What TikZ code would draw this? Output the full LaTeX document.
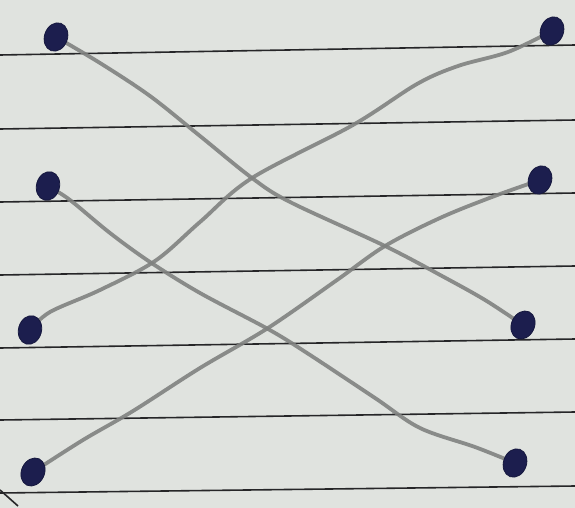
\documentclass[tikz,border=0pt]{standalone}
\usetikzlibrary{shapes.geometric}
\definecolor{paper}{RGB}{224,227,223}
\definecolor{rule}{RGB}{38,38,40}
\definecolor{pencil}{RGB}{128,130,128}
\definecolor{ink}{RGB}{28,30,78}
\tikzset{
  dot/.style={ellipse,fill=ink,draw=ink!80!black,line width=0.8pt,minimum width=23pt,minimum height=29pt,inner sep=0pt},
  ruling/.style={draw=rule,line width=1.6pt},
  wire/.style={draw=pencil,line width=3.8pt,line cap=round,line join=round,opacity=0.9}
}
\begin{document}
\begin{tikzpicture}[x=1pt,y=-1pt]
\useasboundingbox (0,0) rectangle (575,508);
\fill[paper] (0,0) rectangle (575,508);
% ruled lines
\foreach \a/\b in {55/45,129/120,202/193,275/266,348/339,420/412,493/486}
  \draw[ruling] (0,\a) -- (575,\b);
\draw[ruling] (0,490) -- (18,506);
% dot positions
\coordinate (L1) at (56,37);
\coordinate (L2) at (48,186);
\coordinate (L3) at (30,330);
\coordinate (L4) at (33,472);
\coordinate (R1) at (552,31);
\coordinate (R2) at (540,180);
\coordinate (R3) at (523,325);
\coordinate (R4) at (515,463);
% pencil connectors
\draw[wire] plot[smooth,tension=0.55] coordinates
  {(L1) (100,63) (150,96) (200,136) (252,178) (290,202) (385,246) (442,276) (485,300) (R3)};
\draw[wire] plot[smooth,tension=0.55] coordinates
  {(R1) (508,52) (458,66) (417,84) (353,125) (252,178) (200,222) (155,261) (100,290) (50,312) (L3)};
\draw[wire] plot[smooth,tension=0.55] coordinates
  {(L2) (70,200) (110,233) (150,262) (200,293) (268,329) (307,353) (375,398) (420,428) (475,447) (R4)};
\draw[wire] plot[smooth,tension=0.55] coordinates
  {(R2) (492,197) (440,218) (385,246) (337,280) (268,328) (200,368) (133,411) (83,440) (L4)};
% dots
\node[dot,rotate=-20] (d1) at (L1) {};
\node[dot,rotate=-15] (d2) at (L2) {};
\node[dot,rotate=-15] (d3) at (L3) {};
\node[dot,rotate=-25] (d4) at (L4) {};
\node[dot,rotate=-20] (d5) at (R1) {};
\node[dot,rotate=-20] (d6) at (R2) {};
\node[dot,rotate=-25] (d7) at (R3) {};
\node[dot,rotate=-20] (d8) at (R4) {};
\end{tikzpicture}
\end{document}
